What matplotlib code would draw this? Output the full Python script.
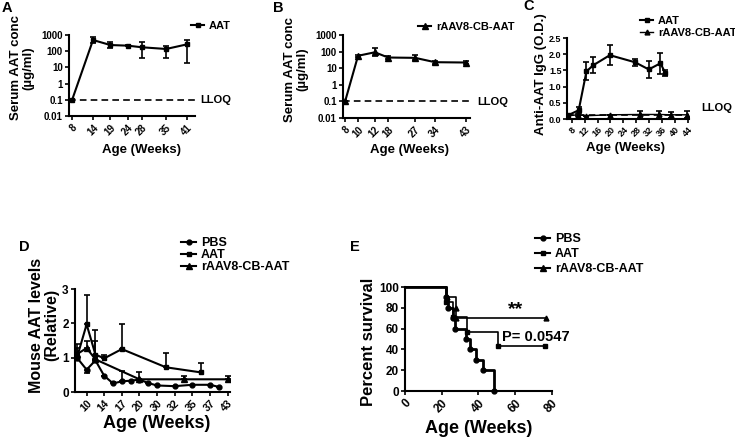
import matplotlib
matplotlib.use('Agg')
import matplotlib.pyplot as plt
from matplotlib.ticker import NullLocator

plt.rcParams['font.family'] = ['Liberation Sans', 'DejaVu Sans']
plt.rcParams['font.weight'] = 'bold'
plt.rcParams['axes.linewidth'] = 1.5

# panel A: serum AAT after AAT protein
a_weeks = [8, 14, 19, 24, 28, 35, 41]
a_conc = [0.1, 490, 240, 220, 175, 137, 265]
a_lo = [0.1, 330, 160, 200, 36, 36, 20]
a_hi = [0.1, 750, 370, 250, 350, 220, 490]

# panel B: serum AAT after rAAV8-CB-AAT (x in plot units, labelled by week)
b_pos = [0.6, 4.3, 9.1, 12.9, 20.6, 26.3, 35.1]
b_labels = ['8', '10', '12', '18', '27', '34', '43']
b_conc = [0.1, 56, 91, 44, 42, 23, 22]
b_lo = [0.1, 48, 52, 36, 32, 19, 18]
b_hi = [0.1, 65, 160, 52, 63, 27, 26]

# panel C: anti-AAT IgG
c_aat_weeks = [7, 10.2, 12.6, 14.7, 19.8, 27.6, 31.8, 35.4, 36.9]
c_aat = [0.12, 0.27, 1.47, 1.66, 1.97, 1.75, 1.53, 1.72, 1.42]
c_aat_err = [0.02, 0.1, 0.28, 0.24, 0.3, 0.1, 0.27, 0.33, 0.1]
c_raav_weeks = [7, 10, 12.5, 20, 29, 35, 38.5, 43.5]
c_raav = [0.1, 0.13, 0.1, 0.13, 0.14, 0.14, 0.13, 0.13]
c_raav_err = [0, 0.03, 0, 0, 0.12, 0.1, 0.09, 0.11]
c_lloq = 0.12

# panel D: mouse AAT levels (x in plot units, ticks labelled by week)
d_tick_pos = [1, 2, 3, 4, 5, 6, 7, 8, 9]
d_tick_labels = ['10', '14', '17', '20', '30', '32', '35', '37', '43']
d_pbs_pos = [0.45, 1, 1.5, 2, 2.5, 3, 3.5, 4, 4.5, 5, 6, 7, 8, 8.5]
d_pbs = [1.0, 0.65, 0.92, 0.47, 0.25, 0.31, 0.33, 0.36, 0.26, 0.19, 0.17, 0.21, 0.21, 0.15]
d_pbs_up = [0.27, 0, 0, 0, 0.05, 0.3, 0, 0, 0, 0, 0, 0, 0, 0]
d_pbs_down = [0, 0.1, 0, 0, 0, 0, 0, 0, 0, 0, 0, 0, 0, 0]
d_aat_pos = [0.45, 1, 1.5, 2, 3, 5.5, 7.5]
d_aat = [1.0, 1.97, 1.09, 0.98, 1.25, 0.72, 0.57]
d_aat_up = [0.12, 0.85, 0.73, 0.09, 0.72, 0.42, 0.27]
d_raav_pos = [0.45, 1, 1.5, 4, 6.5, 9]
d_raav = [1.1, 1.28, 0.95, 0.37, 0.37, 0.37]
d_raav_up = [0.31, 0.2, 0.53, 0.22, 0.09, 0.09]

# panel E: survival
e_pbs_t = [0, 22.5, 23.5, 26, 27, 33, 35.5, 38.5, 42.5, 48.5]
e_pbs_s = [100, 90, 80, 70, 60, 50, 40, 30, 20, 0]
e_aat_t = [0, 22.5, 26, 33.5, 50.5, 76]
e_aat_s = [100, 85.7, 71.4, 57.1, 42.9, 42.9]
e_raav_t = [0, 23, 27.5, 28, 77]
e_raav_s = [100, 90, 80, 70, 70]

W, H = 735, 440
fig = plt.figure(figsize=(W / 100, H / 100), dpi=100)


def px_axes(l, t, r, b):
    ax = fig.add_axes([l / W, 1 - b / H, (r - l) / W, (b - t) / H])
    ax.spines['top'].set_visible(False)
    ax.spines['right'].set_visible(False)
    ax.tick_params(direction='out', length=3, width=1.2, labelsize=7, pad=1.5)
    return ax


def ftext(x, y, s, **kw):
    fig.text(x / W, 1 - y / H, s, fontweight='bold', **kw)


def rot_ticks(ax, pos, labels, size=7):
    ax.set_xticks(pos, labels, rotation=45, ha='right', rotation_mode='anchor', fontsize=size)


def log_axis(ax):
    ax.set_yscale('log')
    ax.set_ylim(0.01, 1000)
    ax.set_yticks([0.01, 0.1, 1, 10, 100, 1000], ['0.01', '0.1', '1', '10', '100', '1000'])
    ax.yaxis.set_minor_locator(NullLocator())


ebar = dict(fmt='none', ecolor='k', elinewidth=1.2, capsize=2.5, capthick=1.2)
leg_small = dict(frameon=False, prop={'weight': 'bold', 'size': 8}, borderpad=0,
                 handlelength=1.2, handletextpad=0.4, borderaxespad=0)

# ---- A
axA = px_axes(69, 35, 195, 116)
log_axis(axA)
axA.errorbar(a_weeks, a_conc, yerr=[[c - l for c, l in zip(a_conc, a_lo)],
                                    [h - c for c, h in zip(a_conc, a_hi)]], **ebar)
lA, = axA.plot(a_weeks, a_conc, 'k-s', lw=1.5, ms=3.5)
axA.axhline(0.1, color='k', ls='--', lw=1.2, dashes=(4, 2.5))
axA.set_xlim(7.1, 43.3)
rot_ticks(axA, a_weeks, [str(w) for w in a_weeks])
fig.legend([lA], ['AAT'], loc='center left', bbox_to_anchor=(191 / W, 1 - 26 / H), **leg_small)
ftext(200, 100, 'LLOQ', ha='left', va='center', fontsize=8)
ftext(22, 68, 'Serum AAT conc\n(µg/ml)', rotation=90, ha='center', va='center', fontsize=9.5, linespacing=1.0)
ftext(142, 150, 'Age (Weeks)', ha='center', va='center', fontsize=9.5)
ftext(7, 8, 'A', ha='center', va='center', fontsize=10.5)

# ---- B
axB = px_axes(343, 35, 470, 118)
log_axis(axB)
axB.errorbar(b_pos, b_conc, yerr=[[c - l for c, l in zip(b_conc, b_lo)],
                                  [h - c for c, h in zip(b_conc, b_hi)]], **ebar)
lB, = axB.plot(b_pos, b_conc, 'k-^', lw=1.5, ms=4)
axB.axhline(0.1, color='k', ls='--', lw=1.2, dashes=(4, 2.5))
axB.set_xlim(0, 36.3)
rot_ticks(axB, b_pos, b_labels)
fig.legend([lB], ['rAAV8-CB-AAT'], loc='center left', bbox_to_anchor=(418 / W, 1 - 27 / H), **leg_small)
ftext(477, 102, 'LLOQ', ha='left', va='center', fontsize=8)
ftext(296, 69, 'Serum AAT conc\n(µg/ml)', rotation=90, ha='center', va='center', fontsize=9.5, linespacing=1.0)
ftext(410, 150, 'Age (Weeks)', ha='center', va='center', fontsize=9.5)
ftext(278, 8, 'B', ha='center', va='center', fontsize=10.5)

# ---- C
axC = px_axes(567, 38, 689, 119)
axC.errorbar(c_aat_weeks, c_aat, yerr=c_aat_err, **ebar)
axC.errorbar(c_raav_weeks, c_raav, yerr=c_raav_err, **ebar)
lC1, = axC.plot(c_aat_weeks, c_aat, 'k-s', lw=1.5, ms=3.5)
lC2, = axC.plot(c_raav_weeks, c_raav, 'k-^', lw=1.0, ms=3.5)
axC.axhline(c_lloq, color='k', ls='--', lw=1.2, dashes=(4, 2.5))
axC.set_xlim(6.6, 44.2)
axC.set_ylim(0, 2.5)
axC.set_yticks([0, 0.5, 1.0, 1.5, 2.0, 2.5], ['0.0', '0.5', '1.0', '1.5', '2.0', '2.5'])
axC.tick_params(axis='y', labelsize=6.5, pad=1)
rot_ticks(axC, list(range(8, 45, 4)), [str(w) for w in range(8, 45, 4)], size=6.5)
fig.legend([lC1, lC2], ['AAT', 'rAAV8-CB-AAT'], loc='upper left', bbox_to_anchor=(640 / W, 1 - 16 / H),
           labelspacing=0.2, **leg_small)
ftext(701, 108, 'LLOQ', ha='left', va='center', fontsize=8)
ftext(541, 74, 'Anti-AAT IgG (O.D.)', rotation=90, ha='center', va='center', fontsize=9.5)
ftext(626, 148, 'Age (Weeks)', ha='center', va='center', fontsize=9.5)
ftext(529, 6, 'C', ha='center', va='center', fontsize=10.5)

# ---- D
axD = px_axes(75, 289, 230, 392)
axD.tick_params(labelsize=8.5)
up = dict(fmt='none', ecolor='k', elinewidth=1.2, capsize=2.5, capthick=1.2)
axD.errorbar(d_pbs_pos, d_pbs, yerr=[d_pbs_down, d_pbs_up], **up)
axD.errorbar(d_aat_pos, d_aat, yerr=[[0] * len(d_aat), d_aat_up], **up)
axD.errorbar(d_raav_pos, d_raav, yerr=[[0] * len(d_raav), d_raav_up], **up)
lD1, = axD.plot(d_pbs_pos, d_pbs, 'k-o', lw=1.5, ms=3.5)
lD2, = axD.plot(d_aat_pos, d_aat, 'k-s', lw=1.5, ms=3.5)
lD3, = axD.plot(d_raav_pos, d_raav, 'k-^', lw=1.5, ms=4)
axD.set_xlim(0.34, 9.14)
axD.set_ylim(0, 3)
axD.set_yticks([0, 1, 2, 3])
rot_ticks(axD, d_tick_pos, d_tick_labels, size=7.5)
leg_big = dict(leg_small)
leg_big['prop'] = {'weight': 'bold', 'size': 9}
fig.legend([lD1, lD2, lD3], ['PBS', 'AAT', 'rAAV8-CB-AAT'], loc='upper left',
           bbox_to_anchor=(181 / W, 1 - 237 / H), labelspacing=0.0, **leg_big)
ftext(44, 325, 'Mouse AAT levels\n(Relative)', rotation=90, ha='center', va='center', fontsize=11.5, linespacing=1.0)
ftext(157, 423, 'Age (Weeks)', ha='center', va='center', fontsize=13)
ftext(24, 247, 'D', ha='center', va='center', fontsize=10.5)

# ---- E
axE = px_axes(405, 287, 552, 391)
axE.tick_params(labelsize=8.5)
axE.step(e_pbs_t, e_pbs_s, where='post', color='k', lw=2.0, clip_on=False)
axE.step(e_aat_t, e_aat_s, where='post', color='k', lw=1.2, clip_on=False)
axE.step(e_raav_t, e_raav_s, where='post', color='k', lw=1.2, clip_on=False)
axE.plot(e_pbs_t[1:], e_pbs_s[1:], 'ko', ms=3.5, clip_on=False)
axE.plot(e_aat_t[1:], e_aat_s[1:], 'ks', ms=3.5, clip_on=False)
axE.plot(e_raav_t[1:], e_raav_s[1:], 'k^', ms=3.5, clip_on=False)
hE1, = axE.plot([], [], 'k-o', lw=1.5, ms=3.5)
hE2, = axE.plot([], [], 'k-s', lw=1.5, ms=3.5)
hE3, = axE.plot([], [], 'k-^', lw=1.5, ms=4)
axE.set_xlim(0, 80)
axE.set_ylim(0, 100)
axE.set_yticks(range(0, 101, 20))
rot_ticks(axE, list(range(0, 81, 20)), [str(v) for v in range(0, 81, 20)], size=8.5)
fig.legend([hE1, hE2, hE3], ['PBS', 'AAT', 'rAAV8-CB-AAT'], loc='upper left',
           bbox_to_anchor=(535 / W, 1 - 233 / H), labelspacing=0.25, **leg_big)
axE.text(60, 78, '**', ha='center', va='center', fontsize=14, fontweight='bold')
axE.text(53, 52, 'P= 0.0547', ha='left', va='center', fontsize=10.5, fontweight='bold')
ftext(368, 342, 'Percent survival', rotation=90, ha='center', va='center', fontsize=12)
ftext(479, 428, 'Age (Weeks)', ha='center', va='center', fontsize=13)
ftext(355, 247, 'E', ha='center', va='center', fontsize=10.5)

fig.savefig('out.png', dpi=100)
